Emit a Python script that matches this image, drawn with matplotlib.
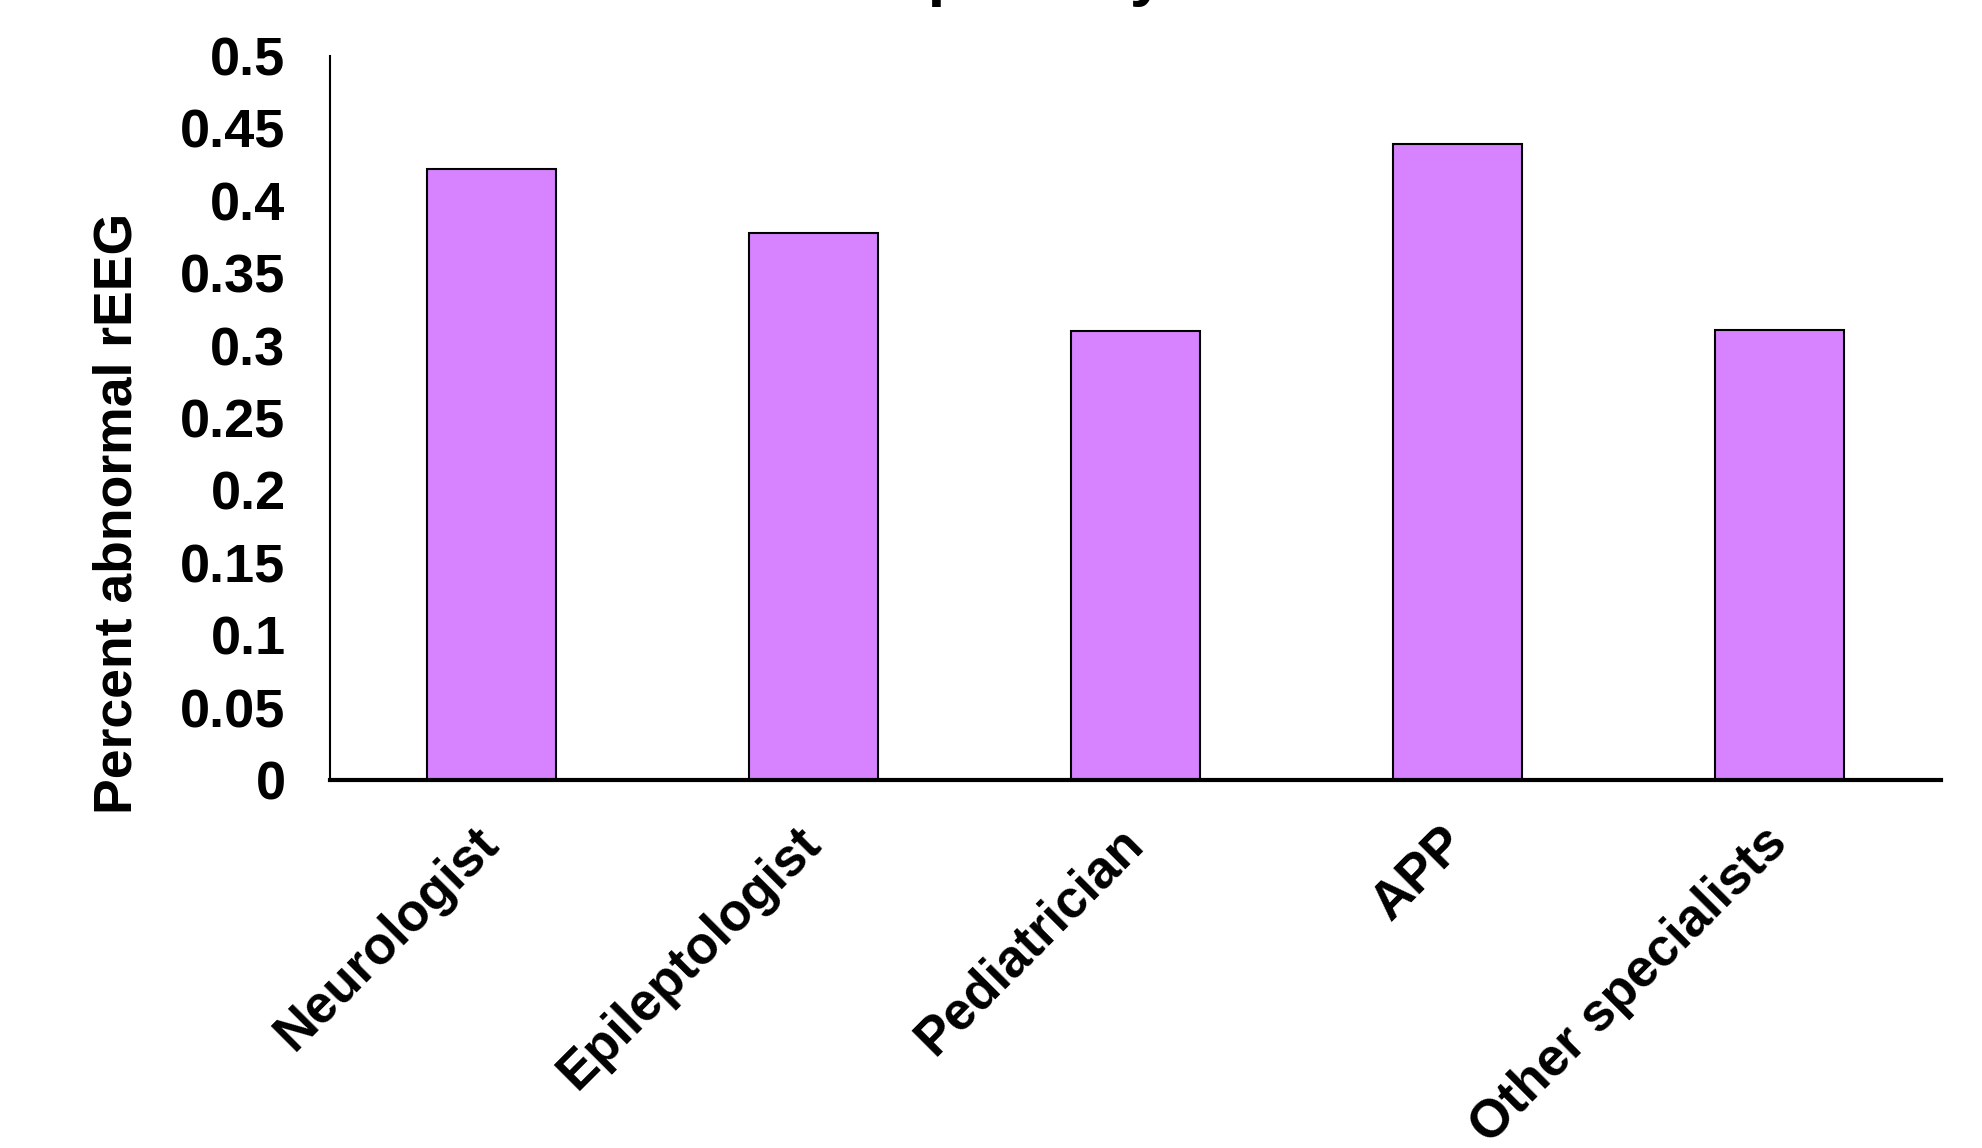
import numpy as np
import matplotlib.pyplot as plt
from matplotlib.ticker import FuncFormatter

plt.rcParams['font.family'] = ['Liberation Sans', 'DejaVu Sans']
plt.rcParams['font.weight'] = 'bold'

# данные
specialties = ['Neurologist', 'Epileptologist', 'Pediatrician', 'APP', 'Other specialists']
pct_abnormal = [0.422, 0.378, 0.310, 0.439, 0.311]
yticks = [0, 0.05, 0.1, 0.15, 0.2, 0.25, 0.3, 0.35, 0.4, 0.45, 0.5]

fig = plt.figure(figsize=(19.83, 11.48), dpi=100)
ax = fig.add_axes([330/1983, 1-780/1148, 1611/1983, 724/1148])

x = np.arange(len(specialties))
ax.bar(x, pct_abnormal, width=0.4, color='#D783FF', edgecolor='black', linewidth=1.5)

ax.set_xlim(-0.5, len(specialties) - 0.5)
ax.set_ylim(0, 0.5)
ax.set_yticks(yticks)
ax.yaxis.set_major_formatter(FuncFormatter(lambda v, p: '%g' % round(v, 2)))
ax.tick_params(axis='y', length=0, pad=32, labelsize=39)
ax.set_xticks(x)
ax.set_xticklabels(specialties, rotation=45, ha='right', va='center',
                   rotation_mode='anchor', fontsize=38, fontweight='bold')
ax.tick_params(axis='x', length=0, pad=40)
for lab in ax.get_yticklabels():
    lab.set_fontweight('bold')

for s in ['top', 'right']:
    ax.spines[s].set_visible(False)
ax.spines['left'].set_linewidth(1.5)
ax.spines['bottom'].set_linewidth(3)

# подпись оси y и обрезанный заголовок
fig.text(118/1983, 1-513/1148, 'Percent abnormal rEEG', rotation=90,
         ha='center', va='center', fontsize=38.5, fontweight='bold')
fig.text(885/1983, 1.005, 'Specialty', ha='left', va='baseline',
         fontsize=46, fontweight='bold')

fig.savefig('out.png', dpi=100)
